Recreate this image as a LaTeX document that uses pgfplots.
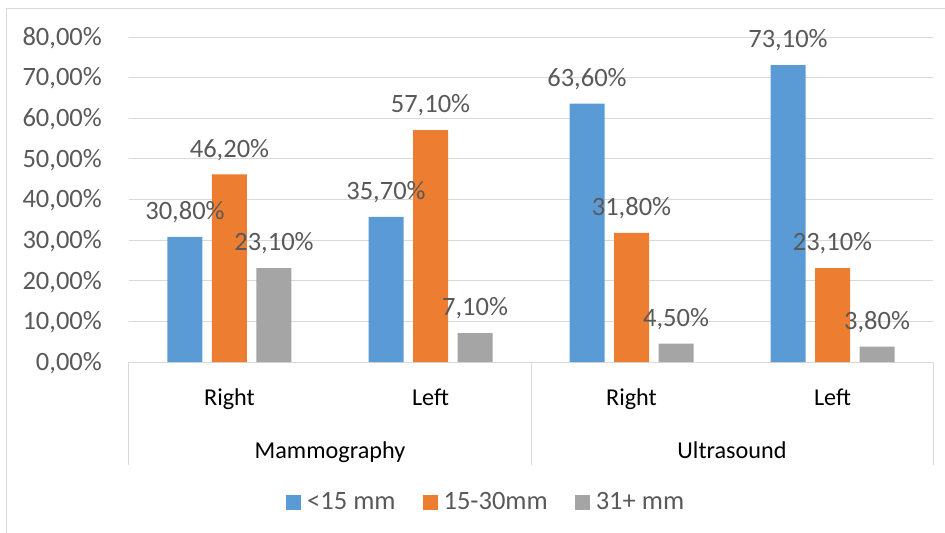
\documentclass[border=0pt]{standalone}
\usepackage{fontspec}
\setmainfont{Carlito}
\usepackage{pgfplots}
\pgfplotsset{compat=1.18}
\definecolor{cblue}{HTML}{5B9BD5}
\definecolor{corange}{HTML}{ED7D31}
\definecolor{cgray}{HTML}{A5A5A5}
\definecolor{gridcol}{HTML}{D9D9D9}
\definecolor{txtgray}{HTML}{595959}
\newcommand{\numfont}{\fontsize{26.5bp}{30bp}\selectfont}
\newcommand{\catfont}{\fontsize{24.2bp}{28bp}\selectfont}
\begin{document}
\begin{tikzpicture}
\path[use as bounding box] (-129bp,-171bp) rectangle (816bp,362bp);
\draw[gridcol, line width=1.2bp] (-122.3bp,-175bp) -- (-122.3bp,353.7bp) -- (820bp,353.7bp);
\begin{axis}[
  at={(0,0)}, anchor=south west,
  scale only axis,
  width=804bp, height=325bp,
  xmin=-0.5, xmax=3.5,
  ymin=0, ymax=80,
  ytick={0,10,...,80},
  xtick={0,1,2,3},
  xticklabels={Right,Left,Right,Left},
  ybar=9.5bp,
  bar width=35bp,
  axis x line*=bottom, axis y line*=left,
  y axis line style={draw=none},
  x axis line style={draw=gridcol, line width=1bp},
  major tick length=0pt,
  ymajorgrids,
  grid style={gridcol, line width=1bp},
  /pgf/number format/assume math mode=true,
  yticklabel={\pgfmathprintnumber[fixed,fixed zerofill,precision=2,use comma]{\tick}\%},
  yticklabel style={font=\numfont, text=txtgray, inner sep=0pt, anchor=east, xshift=-27bp, text height=16.7bp, text depth=0pt},
  xticklabel style={font=\catfont, text=black, inner sep=0pt, anchor=base, yshift=-43bp},
  clip=false,
  nodes near coords={\pgfmathprintnumber[fixed,fixed zerofill,precision=2,use comma]{\pgfplotspointmeta}\%},
  every node near coord/.append style={font=\numfont, text=txtgray, inner sep=0pt, anchor=south, text depth=0pt, yshift=17bp},
  legend columns=3,
  legend style={at={(0.1953,-0.4308)}, anchor=west, draw=none, fill=none, inner sep=0pt,
    font=\numfont, text=txtgray,
    nodes={inner sep=0pt},
    /tikz/every odd column/.append style={column sep=6bp},
    /tikz/every even column/.append style={column sep=27bp}},
  legend image code/.code={\fill[#1] (0bp,-7.5bp) rectangle (15bp,7.5bp);},
]
\addplot[fill=cblue, draw=none] coordinates {(0,30.8) (1,35.7) (2,63.6) (3,73.1)};
\addplot[fill=corange, draw=none] coordinates {(0,46.2) (1,57.1) (2,31.8) (3,23.1)};
\addplot[fill=cgray, draw=none] coordinates {(0,23.1) (1,7.1) (2,4.5) (3,3.8)};
\legend{<15 mm, 15-30mm, 31+ mm}
\draw[gridcol, line width=1bp] (axis cs:-0.5,0) -- ++(0bp,-103bp);
\draw[gridcol, line width=1bp] (axis cs:1.5,0) -- ++(0bp,-103bp);
\draw[gridcol, line width=1bp] (axis cs:3.5,0) -- ++(0bp,-103bp);
\node[font=\catfont, text=black, anchor=base, inner sep=0pt] at ([yshift=-96bp]axis cs:0.5,0) {Mammography};
\node[font=\catfont, text=black, anchor=base, inner sep=0pt] at ([yshift=-96bp]axis cs:2.5,0) {Ultrasound};
\end{axis}
\end{tikzpicture}
\end{document}
